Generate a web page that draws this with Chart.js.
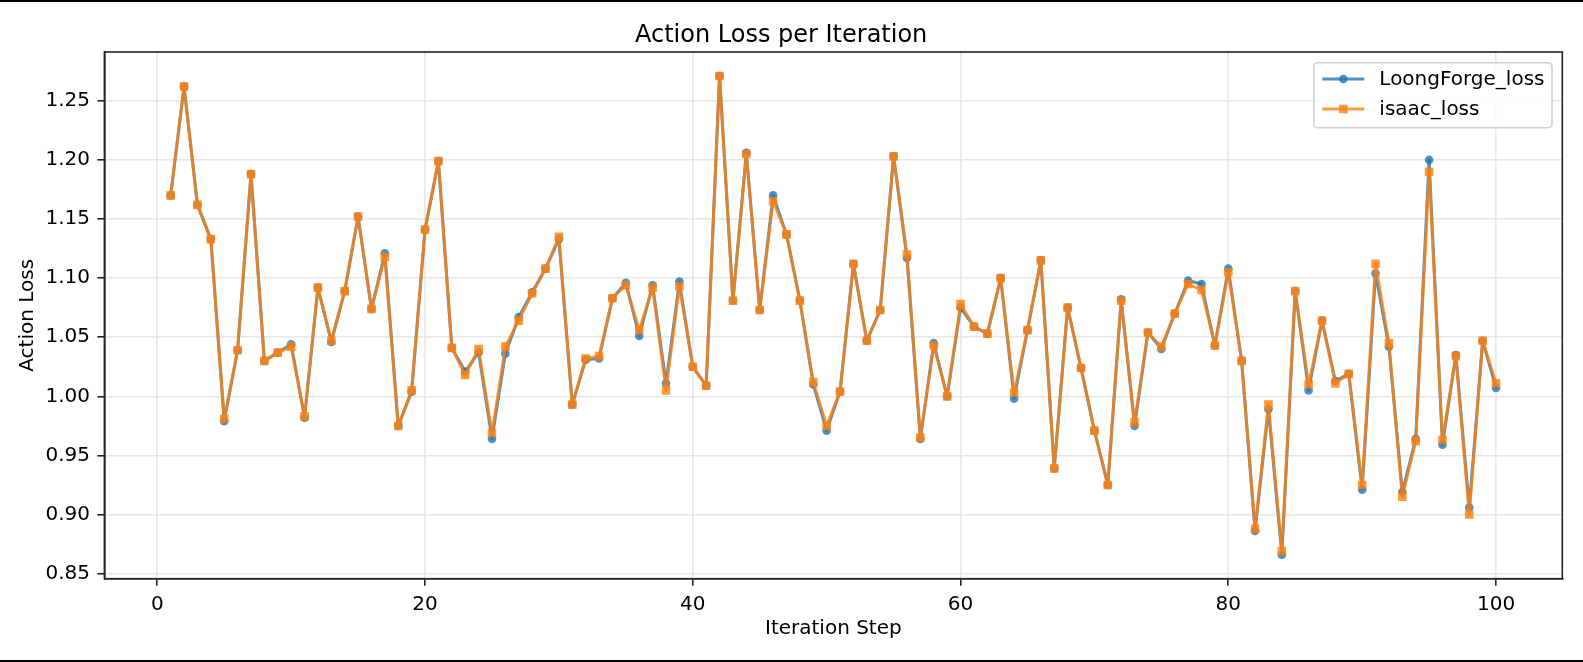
<!DOCTYPE html>
<html>
<head>
<meta charset="utf-8">
<title>Action Loss per Iteration</title>
<script src="https://cdn.jsdelivr.net/npm/chart.js@4.4.1/dist/chart.umd.min.js"></script>
<style>
    html, body { margin: 0; padding: 0; background: #fff; }
    #wrap { width: 1583px; height: 662px; position: relative; }
</style>
</head>
<body>
<div id="wrap"><canvas id="lossChart" width="1583" height="662"></canvas></div>
<script>
// iteration steps 1..100
const steps = [
    1, 2, 3, 4, 5, 6, 7, 8, 9, 10, 11, 12, 13, 14, 15, 16, 17, 18, 19, 20,
    21, 22, 23, 24, 25, 26, 27, 28, 29, 30, 31, 32, 33, 34, 35, 36, 37, 38, 39, 40,
    41, 42, 43, 44, 45, 46, 47, 48, 49, 50, 51, 52, 53, 54, 55, 56, 57, 58, 59, 60,
    61, 62, 63, 64, 65, 66, 67, 68, 69, 70, 71, 72, 73, 74, 75, 76, 77, 78, 79, 80,
    81, 82, 83, 84, 85, 86, 87, 88, 89, 90, 91, 92, 93, 94, 95, 96, 97, 98, 99, 100
];

const loongForgeLoss = [
    1.170, 1.262, 1.162, 1.133, 0.979, 1.039, 1.188, 1.030, 1.037, 1.044,
    0.982, 1.092, 1.046, 1.089, 1.152, 1.074, 1.121, 0.975, 1.004, 1.141,
    1.199, 1.041, 1.021, 1.037, 0.964, 1.036, 1.067, 1.088, 1.108, 1.133,
    0.993, 1.031, 1.032, 1.083, 1.096, 1.051, 1.094, 1.011, 1.097, 1.025,
    1.009, 1.271, 1.081, 1.206, 1.073, 1.170, 1.137, 1.081, 1.010, 0.971,
    1.004, 1.112, 1.047, 1.073, 1.203, 1.117, 0.964, 1.045, 1.000, 1.075,
    1.059, 1.053, 1.100, 0.998, 1.056, 1.115, 0.939, 1.075, 1.024, 0.971,
    0.925, 1.082, 0.975, 1.054, 1.040, 1.070, 1.098, 1.095, 1.043, 1.108,
    1.030, 0.886, 0.989, 0.866, 1.089, 1.005, 1.064, 1.013, 1.019, 0.921,
    1.104, 1.042, 0.919, 0.964, 1.200, 0.959, 1.035, 0.906, 1.047, 1.007
];

const isaacLoss = [
    1.170, 1.262, 1.162, 1.133, 0.981, 1.039, 1.188, 1.030, 1.037, 1.042,
    0.983, 1.092, 1.047, 1.089, 1.152, 1.074, 1.118, 0.975, 1.005, 1.141,
    1.199, 1.041, 1.018, 1.040, 0.969, 1.042, 1.064, 1.087, 1.108, 1.135,
    0.993, 1.032, 1.034, 1.083, 1.094, 1.056, 1.092, 1.005, 1.093, 1.025,
    1.009, 1.271, 1.081, 1.205, 1.073, 1.165, 1.137, 1.081, 1.012, 0.975,
    1.004, 1.112, 1.047, 1.073, 1.203, 1.120, 0.965, 1.043, 1.000, 1.078,
    1.059, 1.053, 1.100, 1.003, 1.056, 1.115, 0.939, 1.075, 1.024, 0.971,
    0.925, 1.081, 0.978, 1.054, 1.042, 1.070, 1.095, 1.090, 1.043, 1.105,
    1.030, 0.888, 0.993, 0.869, 1.089, 1.010, 1.064, 1.011, 1.019, 0.925,
    1.112, 1.045, 0.915, 0.962, 1.190, 0.963, 1.034, 0.900, 1.047, 1.011
];

const xTicks = [0, 20, 40, 60, 80, 100];
const yTicks = [0.85, 0.90, 0.95, 1.00, 1.05, 1.10, 1.15, 1.20, 1.25];

const FONT = "'DejaVu Sans', 'Liberation Sans', sans-serif";
const BLUE = 'rgba(31, 119, 180, 0.8)';
const ORANGE = 'rgba(255, 127, 14, 0.8)';
const GRID = '#e7e7e7';
const SPINE = '#222';

function toPoints(ys) {
    return steps.map((s, i) => ({ x: s, y: ys[i] }));
}

// white background, top/right spines, page edge lines
const framePlugin = {
    id: 'frame',
    beforeDraw(chart) {
        const ctx = chart.ctx;
        ctx.save();
        ctx.fillStyle = '#fff';
        ctx.fillRect(0, 0, chart.width, chart.height);
        ctx.restore();
    },
    afterDraw(chart) {
        const ctx = chart.ctx;
        const a = chart.chartArea;
        ctx.save();
        ctx.strokeStyle = SPINE;
        ctx.lineWidth = 1.6;
        ctx.strokeRect(a.left, a.top, a.right - a.left, a.bottom - a.top);
        ctx.strokeStyle = '#000';
        ctx.lineWidth = 2;
        ctx.beginPath();
        ctx.moveTo(0, 1);
        ctx.lineTo(chart.width, 1);
        ctx.moveTo(0, chart.height - 1);
        ctx.lineTo(chart.width, chart.height - 1);
        ctx.stroke();
        ctx.restore();
    }
};

// matplotlib style legend in upper right of the plot
const boxLegendPlugin = {
    id: 'boxLegend',
    afterDraw(chart) {
        const ctx = chart.ctx;
        const a = chart.chartArea;
        const sets = chart.data.datasets;
        ctx.save();
        ctx.font = '20px ' + FONT;
        let textW = 0;
        sets.forEach(ds => { textW = Math.max(textW, ctx.measureText(ds.label).width); });

        const padL = 8.5, handleW = 42, gap = 15, padR = 7.5, rowH = 30, padT = 16.3, padB = 18.7;
        const boxW = padL + handleW + gap + textW + padR;
        const boxH = padT + padB + rowH * (sets.length - 1);
        const right = a.right - 10.3;
        const top = a.top + 10.7;
        const left = right - boxW;

        ctx.beginPath();
        ctx.roundRect(left, top, boxW, boxH, 4);
        ctx.fillStyle = 'rgba(255,255,255,0.8)';
        ctx.fill();
        ctx.strokeStyle = '#d0d0d0';
        ctx.lineWidth = 1.6;
        ctx.stroke();

        sets.forEach((ds, i) => {
            const y = top + padT + i * rowH;
            const x0 = left + padL;
            ctx.strokeStyle = ds.borderColor;
            ctx.lineWidth = ds.borderWidth;
            ctx.beginPath();
            ctx.moveTo(x0, y);
            ctx.lineTo(x0 + handleW, y);
            ctx.stroke();
            ctx.fillStyle = ds.pointBackgroundColor;
            const cx = x0 + handleW / 2;
            if (ds.pointStyle === 'rect') {
                const h = ds.pointRadius * Math.SQRT1_2;
                ctx.fillRect(cx - h, y - h, 2 * h, 2 * h);
            } else {
                ctx.beginPath();
                ctx.arc(cx, y, ds.pointRadius, 0, Math.PI * 2);
                ctx.fill();
            }
            ctx.fillStyle = '#000';
            ctx.textAlign = 'left';
            ctx.textBaseline = 'middle';
            ctx.fillText(ds.label, x0 + handleW + gap, y + 1);
        });
        ctx.restore();
    }
};

const ctx = document.getElementById('lossChart').getContext('2d');

new Chart(ctx, {
    type: 'line',
    data: {
        datasets: [
            {
                label: 'LoongForge_loss',
                data: toPoints(loongForgeLoss),
                borderColor: BLUE,
                backgroundColor: BLUE,
                pointBackgroundColor: BLUE,
                borderWidth: 3,
                borderJoinStyle: 'round',
                borderCapStyle: 'round',
                pointStyle: 'circle',
                pointRadius: 4.3,
                pointBorderWidth: 0,
                tension: 0,
                order: 1
            },
            {
                label: 'isaac_loss',
                data: toPoints(isaacLoss),
                borderColor: ORANGE,
                backgroundColor: ORANGE,
                pointBackgroundColor: ORANGE,
                borderWidth: 3,
                borderJoinStyle: 'round',
                borderCapStyle: 'round',
                pointStyle: 'rect',
                pointRadius: 6.1,
                pointBorderWidth: 0,
                tension: 0,
                order: 0
            }
        ]
    },
    options: {
        responsive: false,
        animation: false,
        events: [],
        layout: {
            padding: { left: 0, right: 20.7, top: 0, bottom: 0 }
        },
        plugins: {
            legend: { display: false },
            tooltip: { enabled: false },
            title: {
                display: true,
                text: 'Action Loss per Iteration',
                color: '#000',
                font: { family: FONT, size: 24, weight: 'normal', lineHeight: 1.2 },
                padding: { top: 21.2, bottom: 2 }
            }
        },
        scales: {
            x: {
                type: 'linear',
                min: -3.95,
                max: 104.95,
                afterBuildTicks: scale => {
                    scale.ticks = xTicks.map(v => ({ value: v }));
                },
                afterFit: scale => { scale.height = 83.3; },
                grid: {
                    color: GRID,
                    lineWidth: 1.6,
                    tickColor: SPINE,
                    tickLength: 7,
                    tickWidth: 1.6
                },
                border: { color: SPINE, width: 1.6 },
                ticks: {
                    color: '#000',
                    padding: 7.5,
                    maxRotation: 0,
                    font: { family: FONT, size: 20 },
                    callback: v => String(v)
                },
                title: {
                    display: true,
                    text: 'Iteration Step',
                    color: '#000',
                    font: { family: FONT, size: 20 },
                    padding: { top: 0, bottom: 21.5 }
                }
            },
            y: {
                type: 'linear',
                min: 0.8457,
                max: 1.2913,
                afterBuildTicks: scale => {
                    scale.ticks = yTicks.map(v => ({ value: v }));
                },
                afterFit: scale => { scale.width = 104.4; },
                grid: {
                    color: GRID,
                    lineWidth: 1.6,
                    tickColor: SPINE,
                    tickLength: 7,
                    tickWidth: 1.6
                },
                border: { color: SPINE, width: 1.6 },
                ticks: {
                    color: '#000',
                    padding: 7.4,
                    font: { family: FONT, size: 20 },
                    callback: v => v.toFixed(2)
                },
                title: {
                    display: true,
                    text: 'Action Loss',
                    color: '#000',
                    font: { family: FONT, size: 20 },
                    padding: { top: 15.5, bottom: 0 }
                }
            }
        }
    },
    plugins: [framePlugin, boxLegendPlugin]
});
</script>
</body>
</html>
